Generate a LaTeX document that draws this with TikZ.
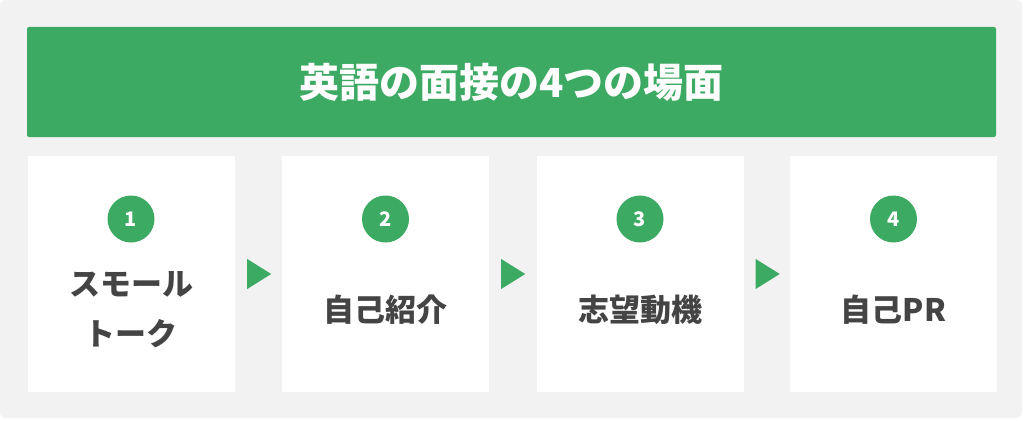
\documentclass[tikz,border=0pt]{standalone}
\usepackage{fontspec}
\setmainfont{Noto Sans CJK JP}
\usepackage{xcolor}
\usetikzlibrary{shapes.geometric}
\definecolor{fgreen}{RGB}{61,170,100}
\definecolor{bggray}{RGB}{242,242,242}
\definecolor{txtgray}{RGB}{68,68,68}
\begin{document}
\begin{tikzpicture}[x=1pt,y=-1pt]
\tikzstyle{card} =[rectangle, fill = white,inner sep=0pt,minimum width=207pt,minimum height=236pt]
\tikzstyle{num} =[circle, fill = fgreen,text=white,inner sep=0pt,minimum size=47pt,font=\fontsize{20}{20}\selectfont\bfseries]
\tikzstyle{label} =[text=txtgray,align=center,font=\fontsize{31}{50}\selectfont\bfseries]
\tikzstyle{tri} =[isosceles triangle, fill = fgreen,inner sep=0pt,minimum height=24pt,minimum width=30pt,isosceles triangle stretches,anchor=west]

\useasboundingbox (0,0) rectangle (1024,420);
\fill[white] (0,0) rectangle (1024,420);
\fill[bggray,rounded corners=6pt] (0,0) rectangle (1022,418);

\node[rectangle,fill=fgreen,rounded corners=2pt,minimum width=969pt,minimum height=110pt,inner sep=0pt,text=white,font=\fontsize{40}{40}\selectfont\bfseries](title) at (511.5,82){英語の面接の4つの場面};

\node[card](c1) at (131,274){};
\node[card](c2) at (385.5,274){};
\node[card](c3) at (640,274){};
\node[card](c4) at (893.5,274){};

\node[num](n1) at (131,219){1};
\node[num](n2) at (385.5,219){2};
\node[num](n3) at (640,219){3};
\node[num](n4) at (893.5,219){4};

\node[label](l1) at (131,310){スモール\\トーク};
\node[label](l2) at (385.5,310){自己紹介};
\node[label](l3) at (640,310){志望動機};
\node[label](l4) at (893.5,310){自己PR};

\node[tri](t1) at (247,274){};
\node[tri](t2) at (501,274){};
\node[tri](t3) at (755.5,274){};
\end{tikzpicture}
\end{document}
